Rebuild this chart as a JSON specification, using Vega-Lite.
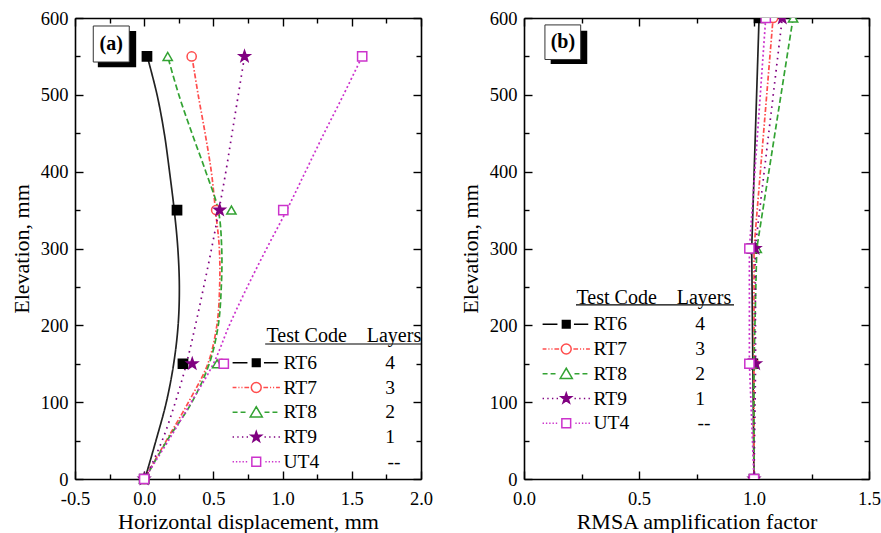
{
  "$schema": "https://vega.github.io/schema/vega-lite/v6.json",
  "background": "white",
  "padding": {"left": 10, "top": 9, "right": 0, "bottom": 0},
  "spacing": 26,
  "config": {
    "view": {"stroke": null},
    "font": "Liberation Serif",
    "axis": {
      "grid": false, "domainColor": "#000", "domainWidth": 1.6, "tickColor": "#000", "tickWidth": 1.4,
      "labelFont": "Liberation Serif", "labelFontSize": 18.5, "labelColor": "#000", "labelFlush": false, "labelOverlap": false,
      "titleFont": "Liberation Serif", "titleFontSize": 22, "titleFontWeight": "normal", "titleColor": "#000"
    },
    "legend": {
      "labelFont": "Liberation Serif", "labelFontSize": 19.5, "labelColor": "#000",
      "titleFont": "Liberation Serif", "titleFontSize": 20, "titleFontWeight": "normal", "titleColor": "#000",
      "symbolSize": 121, "symbolStrokeWidth": 1.5, "labelOffset": 17.5, "rowPadding": 3.75, "titlePadding": 7, "padding": 0, "symbolOpacity": 1
    }
  },
  "datasets": {
    "a_curve": [
      {"test": "RT6", "e": 0, "d": 0.005}, {"test": "RT6", "e": 50, "d": 0.085}, {"test": "RT6", "e": 100, "d": 0.16}, {"test": "RT6", "e": 150, "d": 0.213}, {"test": "RT6", "e": 200, "d": 0.245}, {"test": "RT6", "e": 250, "d": 0.254}, {"test": "RT6", "e": 300, "d": 0.243}, {"test": "RT6", "e": 350, "d": 0.217}, {"test": "RT6", "e": 400, "d": 0.183}, {"test": "RT6", "e": 450, "d": 0.145}, {"test": "RT6", "e": 500, "d": 0.093}, {"test": "RT6", "e": 550, "d": 0.022},
      {"test": "RT7", "e": 0, "d": 0.0}, {"test": "RT7", "e": 50, "d": 0.16}, {"test": "RT7", "e": 100, "d": 0.32}, {"test": "RT7", "e": 150, "d": 0.46}, {"test": "RT7", "e": 200, "d": 0.525}, {"test": "RT7", "e": 250, "d": 0.545}, {"test": "RT7", "e": 300, "d": 0.543}, {"test": "RT7", "e": 350, "d": 0.515}, {"test": "RT7", "e": 400, "d": 0.485}, {"test": "RT7", "e": 450, "d": 0.44}, {"test": "RT7", "e": 500, "d": 0.39}, {"test": "RT7", "e": 550, "d": 0.345},
      {"test": "RT8", "e": 0, "d": 0.005}, {"test": "RT8", "e": 50, "d": 0.165}, {"test": "RT8", "e": 100, "d": 0.345}, {"test": "RT8", "e": 150, "d": 0.47}, {"test": "RT8", "e": 200, "d": 0.535}, {"test": "RT8", "e": 250, "d": 0.557}, {"test": "RT8", "e": 300, "d": 0.56}, {"test": "RT8", "e": 350, "d": 0.535}, {"test": "RT8", "e": 400, "d": 0.445}, {"test": "RT8", "e": 450, "d": 0.345}, {"test": "RT8", "e": 500, "d": 0.25}, {"test": "RT8", "e": 550, "d": 0.17},
      {"test": "RT9", "e": 0, "d": 0.005}, {"test": "RT9", "e": 50, "d": 0.13}, {"test": "RT9", "e": 100, "d": 0.225}, {"test": "RT9", "e": 150, "d": 0.305}, {"test": "RT9", "e": 200, "d": 0.37}, {"test": "RT9", "e": 250, "d": 0.43}, {"test": "RT9", "e": 300, "d": 0.487}, {"test": "RT9", "e": 350, "d": 0.54}, {"test": "RT9", "e": 400, "d": 0.59}, {"test": "RT9", "e": 450, "d": 0.635}, {"test": "RT9", "e": 500, "d": 0.68}, {"test": "RT9", "e": 550, "d": 0.725},
      {"test": "UT4", "e": 0, "d": 0.0}, {"test": "UT4", "e": 50, "d": 0.175}, {"test": "UT4", "e": 100, "d": 0.34}, {"test": "UT4", "e": 150, "d": 0.5}, {"test": "UT4", "e": 200, "d": 0.615}, {"test": "UT4", "e": 250, "d": 0.745}, {"test": "UT4", "e": 300, "d": 0.885}, {"test": "UT4", "e": 350, "d": 1.03}, {"test": "UT4", "e": 400, "d": 1.165}, {"test": "UT4", "e": 450, "d": 1.3}, {"test": "UT4", "e": 500, "d": 1.44}, {"test": "UT4", "e": 550, "d": 1.575}
    ],
    "a_pts": [
      {"test": "RT6", "e": 0, "d": 0.0}, {"test": "RT6", "e": 150, "d": 0.28}, {"test": "RT6", "e": 350, "d": 0.237}, {"test": "RT6", "e": 550, "d": 0.02},
      {"test": "RT7", "e": 0, "d": 0.0}, {"test": "RT7", "e": 150, "d": 0.56}, {"test": "RT7", "e": 350, "d": 0.52}, {"test": "RT7", "e": 550, "d": 0.343},
      {"test": "RT8", "e": 0, "d": 0.0}, {"test": "RT8", "e": 150, "d": 0.527}, {"test": "RT8", "e": 350, "d": 0.63}, {"test": "RT8", "e": 550, "d": 0.17},
      {"test": "RT9", "e": 0, "d": 0.0}, {"test": "RT9", "e": 150, "d": 0.347}, {"test": "RT9", "e": 350, "d": 0.545}, {"test": "RT9", "e": 550, "d": 0.725},
      {"test": "UT4", "e": 0, "d": 0.0}, {"test": "UT4", "e": 150, "d": 0.575}, {"test": "UT4", "e": 350, "d": 1.005}, {"test": "UT4", "e": 550, "d": 1.575}
    ],
    "b_pts": [
      {"test": "RT6", "e": 0, "d": 1.0}, {"test": "RT6", "e": 150, "d": 0.995}, {"test": "RT6", "e": 300, "d": 0.99}, {"test": "RT6", "e": 600, "d": 1.022},
      {"test": "RT7", "e": 0, "d": 1.0}, {"test": "RT7", "e": 150, "d": 1.0}, {"test": "RT7", "e": 300, "d": 1.0}, {"test": "RT7", "e": 600, "d": 1.083},
      {"test": "RT8", "e": 0, "d": 1.0}, {"test": "RT8", "e": 150, "d": 1.0}, {"test": "RT8", "e": 300, "d": 1.012}, {"test": "RT8", "e": 600, "d": 1.17},
      {"test": "RT9", "e": 0, "d": 1.0}, {"test": "RT9", "e": 150, "d": 1.007}, {"test": "RT9", "e": 300, "d": 1.005}, {"test": "RT9", "e": 600, "d": 1.123},
      {"test": "UT4", "e": 0, "d": 1.0}, {"test": "UT4", "e": 150, "d": 0.98}, {"test": "UT4", "e": 300, "d": 0.98}, {"test": "UT4", "e": 600, "d": 1.051}
    ]
  },
  "resolve": {
    "scale": {"x": "independent", "y": "independent", "color": "independent", "strokeDash": "independent", "stroke": "independent", "fill": "independent", "shape": "independent"},
    "axis": {"x": "independent", "y": "independent"}
  },
  "hconcat": [
    {
      "width": 346, "height": 461,
      "resolve": {"scale": {"shape": "independent", "stroke": "independent", "fill": "independent"}, "axis": {"x": "independent", "y": "independent"}},
      "layer": [
        {
          "data": {"name": "a_curve"},
          "mark": {"type": "line", "interpolate": "catmull-rom", "strokeWidth": 1.7},
          "encoding": {
            "x": {"field": "d", "type": "quantitative", "scale": {"domain": [-0.5, 2.0], "nice": false, "zero": false},
              "axis": {"orient": "bottom", "values": [-0.5, -0.25, 0, 0.25, 0.5, 0.75, 1, 1.25, 1.5, 1.75, 2],
                "labelExpr": "abs(datum.value*2 - round(datum.value*2)) < 0.001 ? (datum.value < 0 ? '-' : '') + format(abs(datum.value), '.1f') : ''",
                "tickSize": {"condition": {"test": "abs(datum.value*2 - round(datum.value*2)) < 0.001", "value": -8}, "value": -5},
                "labelPadding": 18, "title": "Horizontal displacement, mm", "titlePadding": 1}},
            "y": {"field": "e", "type": "quantitative", "scale": {"domain": [0, 600], "nice": false, "zero": false},
              "axis": {"orient": "left", "values": [0, 50, 100, 150, 200, 250, 300, 350, 400, 450, 500, 550, 600],
                "labelExpr": "datum.value % 100 == 0 ? datum.label : ''",
                "tickSize": {"condition": {"test": "datum.value % 100 == 0", "value": -8}, "value": -5},
                "labelPadding": 15, "title": "Elevation, mm", "titlePadding": 7}},
            "order": {"field": "e", "type": "quantitative"},
            "color": {"field": "test", "type": "nominal", "scale": {"domain": ["RT6", "RT7", "RT8", "RT9", "UT4"], "range": ["#222222", "#ff4d4d", "#33a333", "#800080", "#cc33cc"]}, "legend": null},
            "strokeDash": {"field": "test", "type": "nominal", "scale": {"domain": ["RT6", "RT7", "RT8", "RT9", "UT4"], "range": [[1, 0], [5, 2, 1.5, 2], [6, 3], [1.6, 4.5], [2, 2.5]]}, "legend": null}
          }
        },
        {
          "data": {"name": "a_pts"},
          "mark": {"type": "point", "size": 85, "strokeWidth": 1.5, "opacity": 1, "fillOpacity": 1},
          "encoding": {
            "x": {"field": "d", "type": "quantitative",
              "axis": {"orient": "top", "values": [-0.5, -0.25, 0, 0.25, 0.5, 0.75, 1, 1.25, 1.5, 1.75, 2], "labels": false, "title": null,
                "tickSize": {"condition": {"test": "abs(datum.value*2 - round(datum.value*2)) < 0.001", "value": -8}, "value": -5}}},
            "y": {"field": "e", "type": "quantitative",
              "axis": {"orient": "right", "values": [0, 50, 100, 150, 200, 250, 300, 350, 400, 450, 500, 550, 600], "labels": false, "title": null,
                "tickSize": {"condition": {"test": "datum.value % 100 == 0", "value": -8}, "value": -5}}},
            "stroke": {"field": "test", "type": "nominal", "scale": {"domain": ["RT6", "RT7", "RT8", "RT9", "UT4"], "range": ["#000000", "#ff4d4d", "#33a333", "#800080", "#cc33cc"]}, "legend": null},
            "fill": {"field": "test", "type": "nominal", "scale": {"domain": ["RT6", "RT7", "RT8", "RT9", "UT4"], "range": ["#000000", "#ffffff", "#ffffff", "#800080", "#ffffff"]}, "legend": null},
            "shape": {"field": "test", "type": "nominal", "scale": {"domain": ["RT6", "RT7", "RT8", "RT9", "UT4"], "range": ["square", "circle", "triangle-up", "M0,-1.25L0.294,-0.405L1.189,-0.386L0.476,0.155L0.735,1.011L0,0.5L-0.735,1.011L-0.476,0.155L-1.189,-0.386L-0.294,-0.405Z", "square"]}, "legend": null}
          }
        },
        {
          "data": {"name": "a_pts"},
          "mark": {"type": "point", "opacity": 0},
          "encoding": {
            "x": {"field": "d", "type": "quantitative", "axis": null},
            "y": {"field": "e", "type": "quantitative", "axis": null},
            "stroke": {"field": "test", "type": "nominal", "scale": {"domain": ["RT6", "RT7", "RT8", "RT9", "UT4"], "range": ["#000000", "#ff4d4d", "#33a333", "#800080", "#cc33cc"]}},
            "fill": {"field": "test", "type": "nominal", "scale": {"domain": ["RT6", "RT7", "RT8", "RT9", "UT4"], "range": ["#000000", "#ffffff", "#ffffff", "#800080", "#ffffff"]}},
            "shape": {"field": "test", "type": "nominal",
              "scale": {"domain": ["RT6", "RT7", "RT8", "RT9", "UT4"], "range": [
                "M-4.3,0L-1.6,0M1.4,0L4,0M-0.7,-0.7L0.7,-0.7L0.7,0.7L-0.7,0.7Z",
                "M-4.3,0L-3.6,0M-3.25,0L-3.05,0M-2.7,0L-2.5,0M-2.15,0L-1.3,0M0.9,0A0.9,0.9,0,1,1,-0.9,0A0.9,0.9,0,1,1,0.9,0ZM1.3,0L2.15,0M2.5,0L2.7,0M3.05,0L3.25,0M3.6,0L4.3,0",
                "M-4.3,0L-3.4,0M-2.85,0L-1.95,0M0,-1L1.1,0.85L-1.1,0.85ZM1.5,0L2.4,0M2.95,0L3.85,0",
                "M-4.3,0L-4.05,0M-3.45,0L-3.2,0M-2.6,0L-2.35,0M-1.75,0L-1.5,0M0,-1L0.235,-0.324L0.951,-0.309L0.38,0.124L0.588,0.809L0,0.4L-0.588,0.809L-0.38,0.124L-0.951,-0.309L-0.235,-0.324ZM1.5,0L1.75,0M2.35,0L2.6,0M3.2,0L3.45,0M4.05,0L4.3,0",
                "M-4.3,0L-4.05,0M-3.7,0L-3.45,0M-3.1,0L-2.85,0M-2.5,0L-2.25,0M-1.9,0L-1.65,0M-0.8,-0.8L0.8,-0.8L0.8,0.8L-0.8,0.8ZM1.65,0L1.9,0M2.25,0L2.5,0M2.85,0L3.1,0M3.45,0L3.7,0M4.05,0L4.3,0"
              ]},
              "legend": {"orient": "none", "legendX": 171.5, "legendY": 308,
                "title": "\u200b\u00a0\u00a0\u00a0\u00a0Test Code\u00a0\u00a0\u00a0\u00a0Layers",
                "labelExpr": "datum.label + '\u2003\u2003\u2003\u2002' + (datum.label == 'RT6' ? '4' : datum.label == 'RT7' ? '3' : datum.label == 'RT8' ? '2' : datum.label == 'RT9' ? '1' : '--')"}}
          }
        },
        {
          "data": {"values": [{}]},
          "mark": {"type": "rect", "fill": "#000000"},
          "encoding": {
            "x": {"datum": -0.335, "type": "quantitative", "axis": null}, "x2": {"datum": -0.058},
            "y": {"datum": 583, "type": "quantitative", "axis": null}, "y2": {"datum": 536}
          }
        },
        {
          "data": {"values": [{}]},
          "mark": {"type": "rect", "fill": "#ffffff", "stroke": "#333333", "strokeWidth": 1},
          "encoding": {
            "x": {"datum": -0.368, "type": "quantitative", "axis": null}, "x2": {"datum": -0.108},
            "y": {"datum": 589.6, "type": "quantitative", "axis": null}, "y2": {"datum": 542.7}
          }
        },
        {
          "data": {"values": [{}]},
          "mark": {"type": "text", "text": "(a)", "font": "Liberation Serif", "fontSize": 20, "fontWeight": "bold", "color": "#000", "align": "center", "baseline": "middle"},
          "encoding": {
            "x": {"datum": -0.238, "type": "quantitative", "axis": null},
            "y": {"datum": 566, "type": "quantitative", "axis": null}
          }
        },
        {
          "data": {"values": [{}]},
          "mark": {"type": "rect", "fill": "#000000"},
          "encoding": {
            "x": {"datum": 0.874, "type": "quantitative", "axis": null}, "x2": {"datum": 2.005},
            "y": {"datum": 176.5, "type": "quantitative", "axis": null}, "y2": {"datum": 174.9}
          }
        }
      ]
    },
    {
      "width": 345, "height": 461,
      "resolve": {"scale": {"shape": "independent", "stroke": "independent", "fill": "independent"}, "axis": {"x": "independent", "y": "independent"}},
      "layer": [
        {
          "data": {"name": "b_pts"},
          "mark": {"type": "line", "strokeWidth": 1.7, "clip": true},
          "encoding": {
            "x": {"field": "d", "type": "quantitative", "scale": {"domain": [0, 1.5], "nice": false, "zero": false},
              "axis": {"orient": "bottom", "values": [0, 0.25, 0.5, 0.75, 1, 1.25, 1.5],
                "labelExpr": "abs(datum.value*2 - round(datum.value*2)) < 0.001 ? format(datum.value, '.1f') : ''",
                "tickSize": {"condition": {"test": "abs(datum.value*2 - round(datum.value*2)) < 0.001", "value": -8}, "value": -5},
                "labelPadding": 18, "title": "RMSA amplification factor", "titlePadding": 1}},
            "y": {"field": "e", "type": "quantitative", "scale": {"domain": [0, 600], "nice": false, "zero": false},
              "axis": {"orient": "left", "values": [0, 50, 100, 150, 200, 250, 300, 350, 400, 450, 500, 550, 600],
                "labelExpr": "datum.value % 100 == 0 ? datum.label : ''",
                "tickSize": {"condition": {"test": "datum.value % 100 == 0", "value": -8}, "value": -5},
                "labelPadding": 15, "title": "Elevation, mm", "titlePadding": 7}},
            "order": {"field": "e", "type": "quantitative"},
            "color": {"field": "test", "type": "nominal", "scale": {"domain": ["RT6", "RT7", "RT8", "RT9", "UT4"], "range": ["#222222", "#ff4d4d", "#33a333", "#800080", "#cc33cc"]}, "legend": null},
            "strokeDash": {"field": "test", "type": "nominal", "scale": {"domain": ["RT6", "RT7", "RT8", "RT9", "UT4"], "range": [[1, 0], [5, 2, 1.5, 2], [6, 3], [1.6, 4.5], [2, 2.5]]}, "legend": null}
          }
        },
        {
          "data": {"name": "b_pts"},
          "mark": {"type": "point", "size": 85, "strokeWidth": 1.5, "opacity": 1, "fillOpacity": 1, "clip": true},
          "encoding": {
            "x": {"field": "d", "type": "quantitative",
              "axis": {"orient": "top", "values": [0, 0.25, 0.5, 0.75, 1, 1.25, 1.5], "labels": false, "title": null,
                "tickSize": {"condition": {"test": "abs(datum.value*2 - round(datum.value*2)) < 0.001", "value": -8}, "value": -5}}},
            "y": {"field": "e", "type": "quantitative",
              "axis": {"orient": "right", "values": [0, 50, 100, 150, 200, 250, 300, 350, 400, 450, 500, 550, 600], "labels": false, "title": null,
                "tickSize": {"condition": {"test": "datum.value % 100 == 0", "value": -8}, "value": -5}}},
            "stroke": {"field": "test", "type": "nominal", "scale": {"domain": ["RT6", "RT7", "RT8", "RT9", "UT4"], "range": ["#000000", "#ff4d4d", "#33a333", "#800080", "#cc33cc"]}, "legend": null},
            "fill": {"field": "test", "type": "nominal", "scale": {"domain": ["RT6", "RT7", "RT8", "RT9", "UT4"], "range": ["#000000", "#ffffff", "#ffffff", "#800080", "#ffffff"]}, "legend": null},
            "shape": {"field": "test", "type": "nominal", "scale": {"domain": ["RT6", "RT7", "RT8", "RT9", "UT4"], "range": ["square", "circle", "triangle-up", "M0,-1.25L0.294,-0.405L1.189,-0.386L0.476,0.155L0.735,1.011L0,0.5L-0.735,1.011L-0.476,0.155L-1.189,-0.386L-0.294,-0.405Z", "square"]}, "legend": null}
          }
        },
        {
          "data": {"name": "b_pts"},
          "mark": {"type": "point", "opacity": 0},
          "encoding": {
            "x": {"field": "d", "type": "quantitative", "axis": null},
            "y": {"field": "e", "type": "quantitative", "axis": null},
            "stroke": {"field": "test", "type": "nominal", "scale": {"domain": ["RT6", "RT7", "RT8", "RT9", "UT4"], "range": ["#000000", "#ff4d4d", "#33a333", "#800080", "#cc33cc"]}},
            "fill": {"field": "test", "type": "nominal", "scale": {"domain": ["RT6", "RT7", "RT8", "RT9", "UT4"], "range": ["#000000", "#ffffff", "#ffffff", "#800080", "#ffffff"]}},
            "shape": {"field": "test", "type": "nominal",
              "scale": {"domain": ["RT6", "RT7", "RT8", "RT9", "UT4"], "range": [
                "M-4.3,0L-1.6,0M1.4,0L4,0M-0.7,-0.7L0.7,-0.7L0.7,0.7L-0.7,0.7Z",
                "M-4.3,0L-3.6,0M-3.25,0L-3.05,0M-2.7,0L-2.5,0M-2.15,0L-1.3,0M0.9,0A0.9,0.9,0,1,1,-0.9,0A0.9,0.9,0,1,1,0.9,0ZM1.3,0L2.15,0M2.5,0L2.7,0M3.05,0L3.25,0M3.6,0L4.3,0",
                "M-4.3,0L-3.4,0M-2.85,0L-1.95,0M0,-1L1.1,0.85L-1.1,0.85ZM1.5,0L2.4,0M2.95,0L3.85,0",
                "M-4.3,0L-4.05,0M-3.45,0L-3.2,0M-2.6,0L-2.35,0M-1.75,0L-1.5,0M0,-1L0.235,-0.324L0.951,-0.309L0.38,0.124L0.588,0.809L0,0.4L-0.588,0.809L-0.38,0.124L-0.951,-0.309L-0.235,-0.324ZM1.5,0L1.75,0M2.35,0L2.6,0M3.2,0L3.45,0M4.05,0L4.3,0",
                "M-4.3,0L-4.05,0M-3.7,0L-3.45,0M-3.1,0L-2.85,0M-2.5,0L-2.25,0M-1.9,0L-1.65,0M-0.8,-0.8L0.8,-0.8L0.8,0.8L-0.8,0.8ZM1.65,0L1.9,0M2.25,0L2.5,0M2.85,0L3.1,0M3.45,0L3.7,0M4.05,0L4.3,0"
              ]},
              "legend": {"orient": "none", "legendX": 32.5, "legendY": 269.5,
                "title": "\u200b\u00a0\u00a0\u00a0\u00a0Test Code\u00a0\u00a0\u00a0\u00a0Layers",
                "labelExpr": "datum.label + '\u2003\u2003\u2003\u2002' + (datum.label == 'RT6' ? '4' : datum.label == 'RT7' ? '3' : datum.label == 'RT8' ? '2' : datum.label == 'RT9' ? '1' : '--')"}}
          }
        },
        {
          "data": {"values": [{}]},
          "mark": {"type": "rect", "fill": "#000000"},
          "encoding": {
            "x": {"datum": 0.116, "type": "quantitative", "axis": null}, "x2": {"datum": 0.275},
            "y": {"datum": 583.5, "type": "quantitative", "axis": null}, "y2": {"datum": 540}
          }
        },
        {
          "data": {"values": [{}]},
          "mark": {"type": "rect", "fill": "#ffffff", "stroke": "#333333", "strokeWidth": 1},
          "encoding": {
            "x": {"datum": 0.091, "type": "quantitative", "axis": null}, "x2": {"datum": 0.2465},
            "y": {"datum": 591, "type": "quantitative", "axis": null}, "y2": {"datum": 546}
          }
        },
        {
          "data": {"values": [{}]},
          "mark": {"type": "text", "text": "(b)", "font": "Liberation Serif", "fontSize": 20, "fontWeight": "bold", "color": "#000", "align": "center", "baseline": "middle"},
          "encoding": {
            "x": {"datum": 0.169, "type": "quantitative", "axis": null},
            "y": {"datum": 568.5, "type": "quantitative", "axis": null}
          }
        },
        {
          "data": {"values": [{}]},
          "mark": {"type": "rect", "fill": "#000000"},
          "encoding": {
            "x": {"datum": 0.226, "type": "quantitative", "axis": null}, "x2": {"datum": 0.913},
            "y": {"datum": 227.3, "type": "quantitative", "axis": null}, "y2": {"datum": 225.7}
          }
        }
      ]
    }
  ]
}
